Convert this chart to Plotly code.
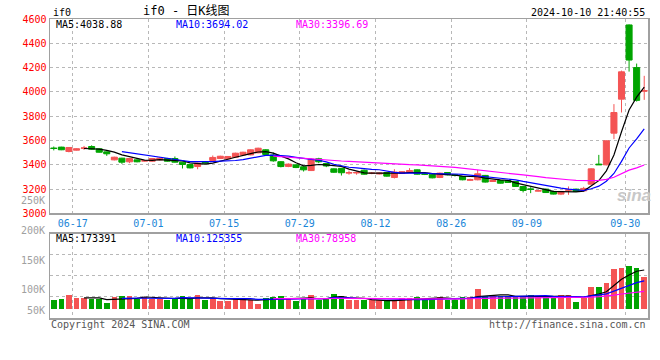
import plotly.graph_objects as go
import pandas as pd

dates = [
    "2024-06-13", "2024-06-14",
    "2024-06-17", "2024-06-18", "2024-06-19", "2024-06-20", "2024-06-21",
    "2024-06-24", "2024-06-25", "2024-06-26", "2024-06-27", "2024-06-28",
    "2024-07-01", "2024-07-02", "2024-07-03", "2024-07-04", "2024-07-05",
    "2024-07-08", "2024-07-09", "2024-07-10", "2024-07-11", "2024-07-12",
    "2024-07-15", "2024-07-16", "2024-07-17", "2024-07-18", "2024-07-19",
    "2024-07-22", "2024-07-23", "2024-07-24", "2024-07-25", "2024-07-26",
    "2024-07-29", "2024-07-30", "2024-07-31", "2024-08-01", "2024-08-02",
    "2024-08-05", "2024-08-06", "2024-08-07", "2024-08-08", "2024-08-09",
    "2024-08-12", "2024-08-13", "2024-08-14", "2024-08-15", "2024-08-16",
    "2024-08-19", "2024-08-20", "2024-08-21", "2024-08-22", "2024-08-23",
    "2024-08-26", "2024-08-27", "2024-08-28", "2024-08-29", "2024-08-30",
    "2024-09-02", "2024-09-03", "2024-09-04", "2024-09-05", "2024-09-06",
    "2024-09-09", "2024-09-10", "2024-09-11", "2024-09-12", "2024-09-13",
    "2024-09-18", "2024-09-19", "2024-09-20",
    "2024-09-23", "2024-09-24", "2024-09-25", "2024-09-26", "2024-09-27",
    "2024-09-30", "2024-10-08", "2024-10-09", "2024-10-10",
]

opens = [3537, 3545, 3509, 3520, 3535, 3550, 3531, 3506, 3440, 3454,
         3424, 3440, 3430, 3429, 3440, 3451, 3451, 3421, 3402, 3385,
         3422, 3435, 3451, 3449, 3462, 3481, 3481, 3498, 3523, 3480,
         3425, 3386, 3399, 3383, 3352, 3449, 3410, 3366, 3370, 3331,
         3332, 3355, 3328, 3324, 3336, 3295, 3328, 3336, 3358, 3325,
         3322, 3295, 3336, 3317, 3303, 3273, 3276, 3312, 3262, 3270,
         3270, 3262, 3221, 3201, 3183, 3199, 3180, 3158, 3190, 3199,
         3185, 3240, 3405, 3399, 3660, 3940, 4551, 4200, 4006]
highs = [3550, 3548, 3545, 3534, 3555, 3560, 3534, 3508, 3466, 3457,
         3455, 3443, 3438, 3455, 3460, 3456, 3468, 3424, 3405, 3416,
         3428, 3476, 3474, 3472, 3499, 3507, 3526, 3540, 3528, 3500,
         3430, 3410, 3402, 3386, 3452, 3457, 3414, 3370, 3374, 3352,
         3345, 3360, 3340, 3335, 3340, 3363, 3347, 3372, 3362, 3330,
         3326, 3335, 3340, 3320, 3306, 3285, 3358, 3316, 3274, 3274,
         3273, 3266, 3224, 3215, 3190, 3203, 3186, 3184, 3221, 3203,
         3218, 3370, 3481, 3600, 3899, 4175, 4555, 4233, 4132]
lows = [3518, 3520, 3502, 3517, 3522, 3524, 3500, 3473, 3436, 3407,
        3413, 3420, 3426, 3425, 3436, 3425, 3418, 3369, 3370, 3363,
        3408, 3427, 3448, 3445, 3458, 3478, 3478, 3495, 3475, 3425,
        3378, 3380, 3372, 3344, 3348, 3413, 3380, 3333, 3311, 3318,
        3318, 3318, 3322, 3320, 3302, 3287, 3325, 3333, 3318, 3315,
        3288, 3290, 3313, 3303, 3272, 3268, 3272, 3253, 3258, 3245,
        3250, 3217, 3172, 3166, 3180, 3168, 3155, 3150, 3152, 3177,
        3182, 3236, 3399, 3395, 3611, 3830, 4167, 3920, 3934]
closes = [3534, 3523, 3542, 3531, 3538, 3528, 3503, 3490, 3462, 3421,
          3451, 3424, 3433, 3451, 3454, 3429, 3421, 3402, 3374, 3413,
          3415, 3460, 3470, 3468, 3495, 3503, 3523, 3536, 3484, 3432,
          3385, 3405, 3377, 3358, 3446, 3424, 3390, 3338, 3334, 3335,
          3336, 3322, 3331, 3331, 3306, 3340, 3343, 3352, 3322, 3322,
          3292, 3331, 3317, 3312, 3276, 3276, 3325, 3257, 3270, 3248,
          3254, 3221, 3188, 3197, 3186, 3171, 3158, 3180, 3193, 3180,
          3205, 3366, 3400, 3597, 3830, 4165, 4262, 3930, 4010]
volumes = [41700, 46100, 61000, 50600, 50600, 43200, 43200, 25400, 55000, 56500,
           56500, 46100, 55000, 46100, 46100, 38700, 50600, 56500, 43200, 61000,
           41700, 49100, 37300, 37300, 49100, 46100, 41700, 24000, 49100, 53500,
           56500, 49100, 34300, 44700, 63900, 38700, 49100, 68300, 56500, 38700,
           38700, 38700, 38700, 38700, 35800, 35800, 49100, 49100, 53500, 46100,
           49100, 53500, 41700, 38700, 53500, 53500, 89000, 59500, 56500, 56500,
           56500, 56500, 56500, 61000, 53500, 53500, 56500, 63900, 63900, 29900,
           49100, 96500, 96500, 114200, 176400, 180800, 189700, 180800, 140900]

tick_labels = ["06-17", "07-01", "07-15", "07-29", "08-12", "08-26", "09-09", "09-30"]
price_ticks = [3000, 3200, 3400, 3600, 3800, 4000, 4200, 4400, 4600]

RED = "#f45454"
GREEN = "#00a400"
MONO = "DejaVu Sans Mono"

x = list(range(len(dates)))
tick_pos = [dates.index("2024-" + t) + 0.5 for t in tick_labels]
close_s = pd.Series(closes, dtype=float)
vol_s = pd.Series(volumes, dtype=float)
ma_styles = [(5, "#000000"), (10, "#0000ff"), (30, "#ff00ff")]

fig = go.Figure()
fig.add_trace(go.Candlestick(
    x=x, open=opens, high=highs, low=lows, close=closes,
    increasing=dict(line=dict(color=RED, width=1), fillcolor=RED),
    decreasing=dict(line=dict(color=GREEN, width=1), fillcolor=GREEN),
    whiskerwidth=0, xaxis="x", yaxis="y", hoverinfo="skip"))
for n, c in ma_styles:
    fig.add_trace(go.Scatter(x=x, y=close_s.rolling(n).mean(), mode="lines",
                             line=dict(color=c, width=1.2), xaxis="x", yaxis="y",
                             hoverinfo="skip"))

vol_colors = [RED if c > o else GREEN for o, c in zip(opens, closes)]
fig.add_trace(go.Bar(x=x, y=volumes, width=0.75,
                     marker=dict(color=vol_colors, line=dict(width=0)),
                     xaxis="x2", yaxis="y2", hoverinfo="skip"))
for n, c in ma_styles:
    fig.add_trace(go.Scatter(x=x, y=vol_s.rolling(n).mean(), mode="lines",
                             line=dict(color=c, width=1.2), xaxis="x2", yaxis="y2",
                             hoverinfo="skip"))

# layout geometry (pixels)
PL, PR, PT, PB = 50, 650, 19, 318.3
PH = PB - PT
price_bottom = 213.5
vol_top_px = 234.0
vol_range = [-39500, 334800]
vspan = vol_range[1] - vol_range[0]

grid = dict(showgrid=True, gridcolor="#b8b8b8", griddash="dot", gridwidth=1)
frame = dict(showline=True, linecolor="#a0a0a0", linewidth=1.5, mirror=True,
             zeroline=False, ticks="")

fig.update_layout(
    width=660, height=360,
    margin=dict(l=PL, r=660 - PR, t=PT, b=360 - PB, pad=0),
    paper_bgcolor="white", plot_bgcolor="white",
    showlegend=False, hovermode=False,
    boxgap=0.2, boxgroupgap=0, bargap=0,
    xaxis=dict(domain=[0, 1], range=[-0.5, len(dates) - 0.5], anchor="y",
               tickmode="array", tickvals=tick_pos, ticktext=tick_labels,
               tickfont=dict(family=MONO, size=10, color="#1a86d8"),
               rangeslider=dict(visible=False), **grid, **frame),
    yaxis=dict(domain=[(PB - price_bottom) / PH, 1], range=[3000, 4600], anchor="x",
               tickmode="array", tickvals=price_ticks,
               ticktext=[str(v) for v in price_ticks],
               tickfont=dict(family=MONO, size=10, color="#ff0000"), **grid, **frame),
    xaxis2=dict(domain=[0, 1], range=[-0.5, len(dates) - 0.5], anchor="y2",
                tickmode="array", tickvals=tick_pos, showticklabels=False,
                **grid, **frame),
    yaxis2=dict(domain=[0, (PB - vol_top_px) / PH], range=vol_range, anchor="x2",
                tickmode="array",
                tickvals=[vol_range[0] + vspan * f for f in (0.25, 0.5, 0.75)],
                showticklabels=False, **grid, **frame),
)


def px(xp):
    return (xp - PL) / (PR - PL)


def py(yp):
    return (PB - yp) / PH


def note(text, xp, yp, color="#000000", anchor="left", size=10, family=MONO, **kw):
    fig.add_annotation(text=text, x=px(xp), y=py(yp), xref="paper", yref="paper",
                       xanchor=anchor, yanchor="middle", showarrow=False,
                       font=dict(family=family, size=size, color=color), **kw)


note("if0", 51, 12)
note("if0 - 日K线图", 141, 11, size=12, family=MONO + ", Noto Sans CJK SC")
note("2024-10-10 21:40:55", 649, 12, anchor="right")
note("MA5:4038.88", 54, 25)
note("MA10:3694.02", 174, 25, color="#0000ff")
note("MA30:3396.69", 295, 25, color="#ff00ff")
note("MA5:173391", 54, 239)
note("MA10:125355", 174, 239, color="#0000ff")
note("MA30:78958", 295, 239, color="#ff00ff")
for lab, yy in [("250K", 201), ("200K", 230.7), ("150K", 260.7), ("100K", 290), ("50K", 310.7)]:
    note(lab, 47, yy, color="#a0a0a0", anchor="right")
note("Copyright 2024 SINA.COM", 49, 325, color="#555555")
note("http://finance.sina.com.cn", 650, 325, color="#555555", anchor="right")
note("<b><i>sina</i></b>", 636, 196, color="#c8c8c8", anchor="center", size=17,
     family="Liberation Sans")

fig.write_html("out.html", config={"displayModeBar": False, "staticPlot": True},
               post_script="document.body.style.margin='0';")
